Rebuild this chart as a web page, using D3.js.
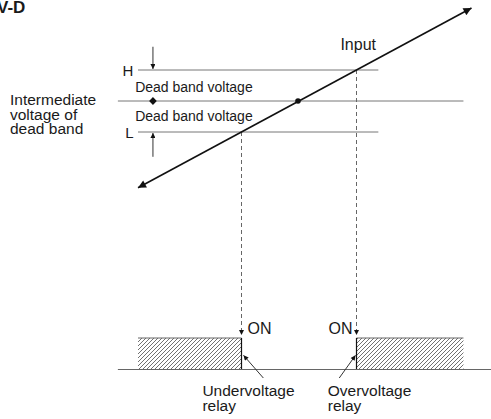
<!DOCTYPE html>
<html>
<head>
<meta charset="utf-8">
<script src="https://cdn.jsdelivr.net/npm/d3@7"></script>
<style>
  body { margin: 0; background: #fff; }
  svg { display: block; }
  text { font-family: Arial, "Liberation Sans", Helvetica, sans-serif; fill: #1a1a1a; }
</style>
</head>
<body>
<div id="chart"></div>
<script>
// levels of the comparator (voltage units)
var levels = [
  { name: "H", v: 1, t0: -2.8, t1: 1.38 },
  { name: "M", v: 0, t0: -3.15, t1: 2.86 },
  { name: "L", v: -1, t0: -2.8, t1: 1.38 }
];
// input ramp (t, v)
var inputT = [-2.8, 3.0];
var inputV = [-2.8, 3.0];
// relay outputs: trip point and hatched extent
var relays = [
  { name: "Undervoltage", trip: -1, from: -2.8, to: -1, labelT: -1.68, ptrT: -0.62 },
  { name: "Overvoltage", trip: 1, from: 1, to: 2.86, labelT: 0.5, ptrT: 0.7 }
];
var groundT = [-3.15, 3.4];
var bandT = -2.54;
var interLines = ["Intermediate", "voltage of", "dead band"];

var width = 491, height = 419;

var x = d3.scaleLinear().domain([0, 1]).range([299, 356.5]);
var y = d3.scaleLinear().domain([0, 1]).range([101, 70]);
var yRelay = d3.scaleLinear().domain([0, 1]).range([369.5, 338]);

var svg = d3.select("#chart").append("svg")
  .attr("width", width)
  .attr("height", height);

var defs = svg.append("defs");

function marker(id, w, h) {
  defs.append("marker")
    .attr("id", id)
    .attr("viewBox", "0 0 10 10")
    .attr("refX", 10).attr("refY", 5)
    .attr("markerUnits", "userSpaceOnUse")
    .attr("markerWidth", w).attr("markerHeight", h)
    .attr("orient", "auto-start-reverse")
    .append("path")
    .attr("d", "M0,0 L10,5 L0,10 z")
    .attr("fill", "#111");
}
marker("big", 13, 8);
marker("small", 7, 5);

defs.append("pattern")
  .attr("id", "hatch")
  .attr("patternUnits", "userSpaceOnUse")
  .attr("width", 4).attr("height", 4)
  .append("path")
  .attr("d", "M-1,1 l2,-2 M0,4 l4,-4 M3,5 l2,-2")
  .attr("stroke", "#333")
  .attr("stroke-width", 0.7);

// title (cut at the edge)
svg.append("text")
  .attr("x", -3).attr("y", 13)
  .style("font-size", "17px").style("font-weight", "bold")
  .text("V-D");

// level lines
svg.selectAll(".level")
  .data(levels)
  .enter().append("line")
  .attr("class", "level")
  .attr("x1", function(d) { return x(d.t0); })
  .attr("x2", function(d) { return x(d.t1); })
  .attr("y1", function(d) { return y(d.v); })
  .attr("y2", function(d) { return y(d.v); })
  .attr("stroke", "#777")
  .attr("stroke-width", 1);

svg.append("text").attr("x", x(-3.07)).attr("y", y(1) + 6)
  .style("font-size", "15px").text("H");
svg.append("text").attr("x", x(-3.02)).attr("y", y(-1) + 6)
  .style("font-size", "15px").text("L");

// dead band arrows
svg.append("line")
  .attr("x1", x(bandT)).attr("x2", x(bandT))
  .attr("y1", y(1.75)).attr("y2", y(1) - 1)
  .attr("stroke", "#333").attr("marker-end", "url(#small)");
svg.append("line")
  .attr("x1", x(bandT)).attr("x2", x(bandT))
  .attr("y1", y(-1.8)).attr("y2", y(-1) + 1)
  .attr("stroke", "#333").attr("marker-end", "url(#small)");

svg.append("path")
  .attr("d", d3.symbol().type(d3.symbolDiamond).size(30))
  .attr("transform", "translate(" + x(bandT) + "," + y(0) + ") scale(1.3,0.8)")
  .attr("fill", "#111");

svg.append("text").attr("x", x(-2.85)).attr("y", y(0.3))
  .style("font-size", "14px").text("Dead band voltage");
svg.append("text").attr("x", x(-2.85)).attr("y", y(-0.65))
  .style("font-size", "14px").text("Dead band voltage");

var inter = svg.append("text").attr("x", 10).attr("y", 105).style("font-size", "15.5px");
interLines.forEach(function(s, i) {
  inter.append("tspan").attr("x", 10).attr("dy", i ? 14.5 : 0).text(s);
});

// dashed drops from trip points
svg.selectAll(".drop")
  .data(relays)
  .enter().append("line")
  .attr("class", "drop")
  .attr("x1", function(d) { return x(d.trip); })
  .attr("x2", function(d) { return x(d.trip); })
  .attr("y1", function(d) { return y(d.trip); })
  .attr("y2", yRelay(1) - 3)
  .attr("stroke", "#666")
  .attr("stroke-dasharray", "4,3")
  .attr("marker-end", "url(#small)");

// input ramp
svg.append("line")
  .attr("x1", x(inputT[0])).attr("y1", y(inputV[0]))
  .attr("x2", x(inputT[1])).attr("y2", y(inputV[1]))
  .attr("stroke", "#111").attr("stroke-width", 1.6)
  .attr("marker-start", "url(#big)").attr("marker-end", "url(#big)");

svg.append("circle")
  .attr("cx", x(0) - 1).attr("cy", y(0)).attr("r", 2.8).attr("fill", "#111");

svg.append("text").attr("x", x(0.72)).attr("y", y(1.65))
  .style("font-size", "16px").text("Input");

// relay outputs
svg.selectAll(".relay")
  .data(relays)
  .enter().append("rect")
  .attr("class", "relay")
  .attr("x", function(d) { return x(d.from); })
  .attr("width", function(d) { return x(d.to) - x(d.from); })
  .attr("y", yRelay(1))
  .attr("height", yRelay(0) - yRelay(1))
  .attr("fill", "url(#hatch)");

svg.selectAll(".relayTop")
  .data(relays)
  .enter().append("line")
  .attr("x1", function(d) { return x(d.from); })
  .attr("x2", function(d) { return x(d.to); })
  .attr("y1", yRelay(1)).attr("y2", yRelay(1))
  .attr("stroke", "#666");

svg.selectAll(".relayEdge")
  .data(relays)
  .enter().append("line")
  .attr("x1", function(d) { return x(d.trip); })
  .attr("x2", function(d) { return x(d.trip); })
  .attr("y1", yRelay(1)).attr("y2", yRelay(0))
  .attr("stroke", "#111").attr("stroke-width", 1.2);

svg.append("line")
  .attr("x1", x(groundT[0])).attr("x2", x(groundT[1]))
  .attr("y1", yRelay(0)).attr("y2", yRelay(0))
  .attr("stroke", "#666");

svg.selectAll(".on")
  .data(relays)
  .enter().append("text")
  .attr("x", function(d) { return x(d.trip) + (d.trip < 0 ? 6 : -4); })
  .attr("y", yRelay(1) - 4)
  .attr("text-anchor", function(d) { return d.trip < 0 ? "start" : "end"; })
  .style("font-size", "16px")
  .text("ON");

svg.selectAll(".ptr")
  .data(relays)
  .enter().append("line")
  .attr("x1", function(d) { return x(d.ptrT); })
  .attr("y1", yRelay(-0.27))
  .attr("x2", function(d) { return x(d.trip) + (d.trip < 0 ? 2 : -1); })
  .attr("y2", yRelay(0.45))
  .attr("stroke", "#333")
  .attr("marker-end", "url(#small)");

var lab = svg.selectAll(".relayLabel")
  .data(relays)
  .enter().append("text")
  .attr("y", 396)
  .style("font-size", "15.5px");
lab.append("tspan").attr("x", function(d) { return x(d.labelT); }).text(function(d) { return d.name; });
lab.append("tspan").attr("x", function(d) { return x(d.labelT); }).attr("dy", 15).text("relay");
</script>
</body>
</html>
